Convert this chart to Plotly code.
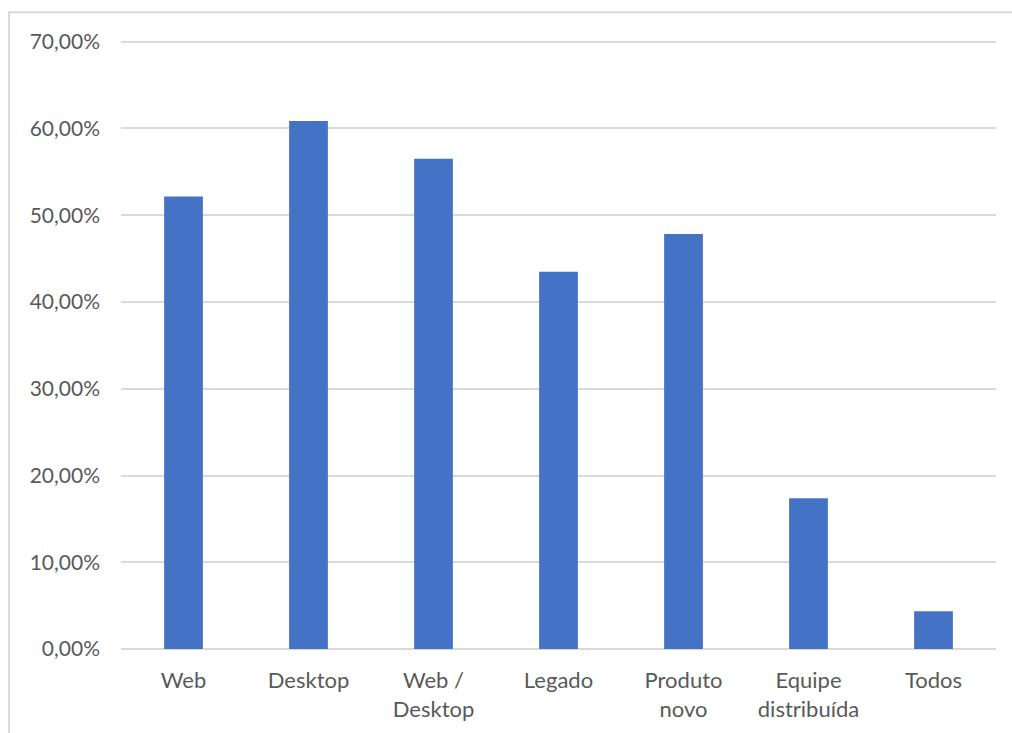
import plotly.graph_objects as go

# Share of responses per project type
categories = ["Web", "Desktop", "Web /<br>Desktop", "Legado", "Produto<br>novo",
              "Equipe<br>distribuída", "Todos"]
values = [52.17, 60.87, 56.52, 43.48, 47.83, 17.39, 4.35]

tick_vals = [0, 10, 20, 30, 40, 50, 60, 70]
tick_text = ["0,00%", "10,00%", "20,00%", "30,00%", "40,00%", "50,00%", "60,00%", "70,00%"]

W, H = 1012, 733
y_top = 70.2  # a little headroom so the 70% gridline is drawn
ml, mr, mb = 121, 16, 84
mt = 41.5 - (y_top - 70) * (H - 41.5 - mb) / 70
pw, ph = W - ml - mr, H - mt - mb

font = dict(family="Lato, 'Open Sans', sans-serif", size=21, color="#595959")
xfont = dict(family="Lato, 'Open Sans', sans-serif", size=22, color="#595959")

fig = go.Figure(go.Bar(
    x=categories, y=values, marker=dict(color="#4472C4", line=dict(width=0)),
    width=0.31, hoverinfo="skip",
))

# light frame around the chart area
x0 = (9 - ml) / pw
y1 = 1 + (mt - 12) / ph
fig.add_shape(type="rect", xref="paper", yref="paper",
              x0=x0, x1=(W + 5 - ml) / pw, y0=-(mb + 5) / ph, y1=y1,
              line=dict(color="#d9d9d9", width=2), fillcolor="rgba(0,0,0,0)", layer="below")

fig.update_layout(
    width=W, height=H,
    margin=dict(l=ml, r=mr, t=mt, b=mb, pad=0),
    paper_bgcolor="white", plot_bgcolor="white",
    font=font, showlegend=False, bargap=0.69,
    xaxis=dict(showgrid=False, showline=False, ticks="", zeroline=False,
               tickfont=xfont, ticklabelstandoff=16),
    yaxis=dict(range=[0, y_top], tickvals=tick_vals, ticktext=tick_text,
               showgrid=True, gridcolor="#d9d9d9", gridwidth=1.5,
               zeroline=True, zerolinecolor="#d9d9d9", zerolinewidth=1.5,
               showline=False, ticks="", tickfont=font, ticklabelstandoff=20),
)

fig.write_html("out.html")
